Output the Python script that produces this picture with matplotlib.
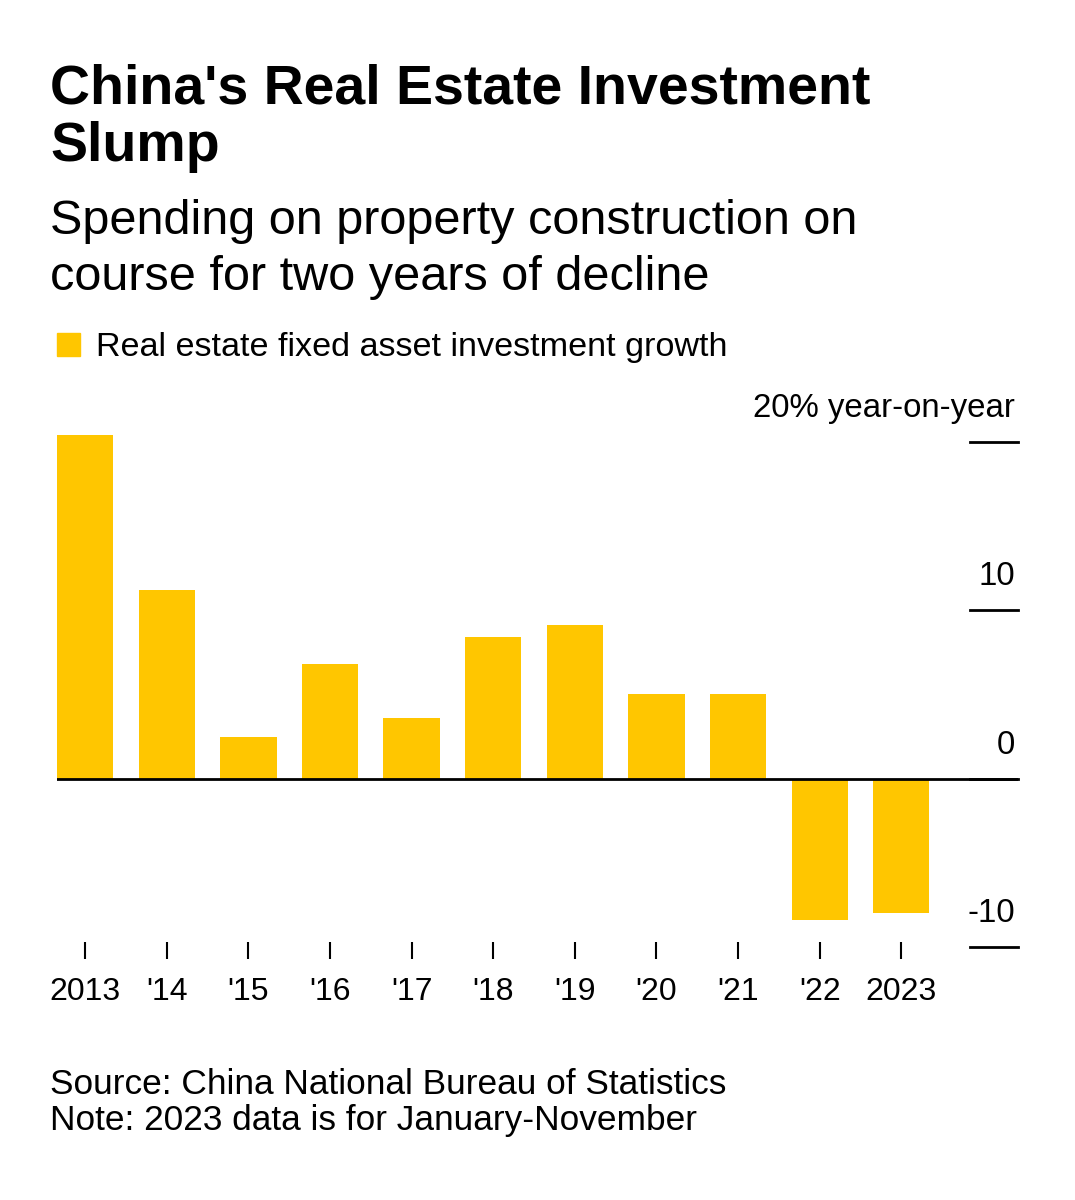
import matplotlib.pyplot as plt
from matplotlib.patches import Rectangle

# values (% y/y)
years = ["2013", "'14", "'15", "'16", "'17", "'18", "'19", "'20", "'21", "'22", "2023"]
growth = [20.4, 11.2, 2.5, 6.8, 3.6, 8.4, 9.1, 5.0, 5.0, -8.4, -8.0]
ytick_vals = [20, 10, 0, -10]
ytick_labels = ["20% year-on-year", "10", "0", "-10"]

YELLOW = "#FFC600"
W, H = 1075, 1200
plt.rcParams["font.family"] = ["Liberation Sans", "DejaVu Sans"]

fig = plt.figure(figsize=(W / 100, H / 100), dpi=100)


def px(x, y):
    return x / W, 1 - y / H


# axes: x spans 57..1018 px, y spans 425..942 px
ax_l, ax_r, ax_t, ax_b = 57, 1018, 425, 942
ax = fig.add_axes([ax_l / W, 1 - ax_b / H, (ax_r - ax_l) / W, (ax_b - ax_t) / H])
ax.bar(range(len(years)), growth, width=0.69, color=YELLOW, zorder=2)
ax.set_xlim(-0.345, 11.43)
ax.set_ylim(-9.7, 21.0)
for s in ax.spines.values():
    s.set_visible(False)
ax.set_yticks([])
ax.set_xticks(range(len(years)))
ax.set_xticklabels(years, fontsize=23)
ax.tick_params(axis="x", length=12, width=1.5, pad=13, color="black", direction="out")

ax.axhline(0, color="black", lw=2, zorder=3)
for v, lab in zip(ytick_vals, ytick_labels):
    ax.axhline(v, xmin=0.95, xmax=1.0, color="black", lw=2, clip_on=False)
    ax.annotate(lab, xy=(1.0, v), xycoords=("axes fraction", "data"),
                xytext=(-2, 13), textcoords="offset points",
                ha="right", va="bottom", fontsize=23.8)

# header
fig.text(*px(50, 103), "China's Real Estate Investment", fontsize=40, fontweight="bold", va="baseline")
fig.text(*px(50, 161), "Slump", fontsize=40, fontweight="bold", va="baseline")
fig.text(*px(50, 234), "Spending on property construction on", fontsize=35, va="baseline")
fig.text(*px(50, 290), "course for two years of decline", fontsize=35, va="baseline")

# legend
fig.patches.append(Rectangle(px(57, 356), 23 / W, 23 / H, color=YELLOW, transform=fig.transFigure))
fig.text(*px(96, 356), "Real estate fixed asset investment growth", fontsize=24.6, va="baseline")

# footer
fig.text(*px(50, 1094), "Source: China National Bureau of Statistics", fontsize=25.4, va="baseline")
fig.text(*px(50, 1130), "Note: 2023 data is for January-November", fontsize=25.4, va="baseline")

fig.savefig("out.png", dpi=100, facecolor="white")
